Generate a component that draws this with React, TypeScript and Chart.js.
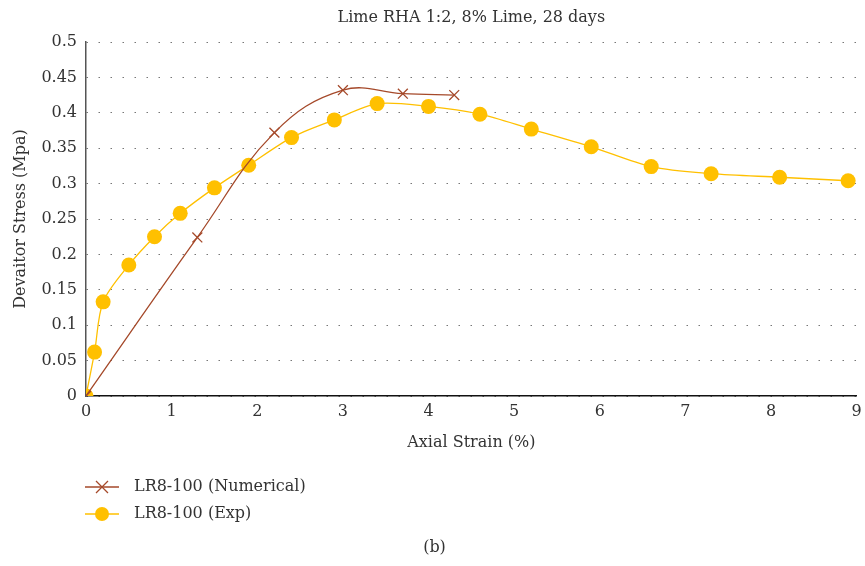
import React, { useEffect, useRef } from "react";
import { Chart, registerables } from "chart.js";

Chart.register(...registerables);

const titleText = "Lime RHA 1:2, 8% Lime, 28 days";
const xAxisTitle = "Axial Strain (%)";
const yAxisTitle = "Devaitor Stress (Mpa)";
const panelLabel = "(b)";

const numLabel = "LR8-100 (Numerical)";
const numX = [0, 1.3, 2.2, 3.0, 3.7, 4.3];
const numY = [0, 0.224, 0.372, 0.432, 0.427, 0.425];

const expLabel = "LR8-100 (Exp)";
const expX = [0, 0.1, 0.2, 0.5, 0.8, 1.1, 1.5, 1.9, 2.4, 2.9, 3.4, 4.0, 4.6, 5.2, 5.9, 6.6, 7.3, 8.1, 8.9];
const expY = [0, 0.062, 0.133, 0.185, 0.225, 0.258, 0.294, 0.326, 0.365, 0.39, 0.413, 0.409, 0.398, 0.377, 0.352, 0.324, 0.314, 0.309, 0.304];

const xTicks = [0, 1, 2, 3, 4, 5, 6, 7, 8, 9];
const yTicks = [0, 0.05, 0.1, 0.15, 0.2, 0.25, 0.3, 0.35, 0.4, 0.45, 0.5];

const NUM_COLOR = "#a5492a";
const EXP_COLOR = "#ffc000";
const FONT = "'DejaVu Serif', serif";
const TEXT = "#333333";
const FS = 16;

export default function App() {
  const ref = useRef<HTMLCanvasElement | null>(null);
  useEffect(() => {
    if (!ref.current) return;
    const extras = {
      id: "extras",
      afterDraw(chart: any) {
        const ctx = chart.ctx;
        const area = chart.chartArea;
        ctx.save();
        ctx.fillStyle = TEXT;
        ctx.textBaseline = "middle";
        ctx.textAlign = "center";
        ctx.font = `${FS}px ${FONT}`;
        ctx.fillText(titleText, (area.left + area.right) / 2, 18);
        ctx.fillText(panelLabel, chart.width / 2 + 2, 548);
        const items = [
          { label: numLabel, color: NUM_COLOR, kind: "cross", y: 487 },
          { label: expLabel, color: EXP_COLOR, kind: "circle", y: 514 },
        ];
        items.forEach((it) => {
          ctx.strokeStyle = it.color;
          ctx.lineWidth = 1.3;
          ctx.beginPath();
          ctx.moveTo(85, it.y);
          ctx.lineTo(119, it.y);
          ctx.stroke();
          if (it.kind === "cross") {
            const r = 6;
            ctx.beginPath();
            ctx.moveTo(102 - r, it.y - r);
            ctx.lineTo(102 + r, it.y + r);
            ctx.moveTo(102 - r, it.y + r);
            ctx.lineTo(102 + r, it.y - r);
            ctx.stroke();
          } else {
            ctx.fillStyle = it.color;
            ctx.beginPath();
            ctx.arc(102, it.y, 7, 0, Math.PI * 2);
            ctx.fill();
          }
          ctx.fillStyle = TEXT;
          ctx.textAlign = "left";
          ctx.fillText(it.label, 134, it.y);
        });
        ctx.restore();
      },
    };
    const chart = new Chart(ref.current, {
      type: "line",
      data: {
        datasets: [
          {
            label: numLabel,
            data: numX.map((x, i) => ({ x, y: numY[i] })),
            borderColor: NUM_COLOR,
            backgroundColor: NUM_COLOR,
            borderWidth: 1.3,
            pointStyle: "crossRot",
            pointRadius: 7,
            pointBorderWidth: 1.3,
            pointBorderColor: NUM_COLOR,
            tension: 0.4,
            fill: false,
            order: 1,
          },
          {
            label: expLabel,
            data: expX.map((x, i) => ({ x, y: expY[i] })),
            borderColor: EXP_COLOR,
            backgroundColor: EXP_COLOR,
            borderWidth: 1.3,
            pointStyle: "circle",
            pointRadius: 7.5,
            pointBorderWidth: 0,
            tension: 0.3,
            fill: false,
            order: 2,
          },
        ],
      },
      options: {
        animation: false,
        responsive: false,
        layout: { padding: { left: 0, right: 7, top: 42, bottom: 110 } },
        plugins: {
          legend: { display: false },
          title: { display: false },
          tooltip: { enabled: false },
        },
        scales: {
          x: {
            type: "linear",
            min: 0,
            max: 9,
            afterBuildTicks: (s: any) => {
              s.ticks = xTicks.map((v) => ({ value: v }));
            },
            afterFit: (s: any) => {
              s.height = 60;
              s.paddingRight = 0;
              s.paddingLeft = 0;
            },
            grid: { display: false, drawTicks: false },
            border: { display: true, color: "#111111", width: 1.5 },
            ticks: { color: TEXT, font: { family: FONT, size: FS }, padding: 6 },
            title: {
              display: true,
              text: xAxisTitle,
              color: TEXT,
              font: { family: FONT, size: FS },
              padding: { top: 6 },
            },
          },
          y: {
            type: "linear",
            min: 0,
            max: 0.5,
            afterBuildTicks: (s: any) => {
              s.ticks = yTicks.map((v) => ({ value: v }));
            },
            afterFit: (s: any) => {
              s.width = 86;
            },
            grid: {
              display: true,
              drawTicks: false,
              color: "#777777",
              lineWidth: 1,
            },
            border: { display: true, color: "#555555", width: 1.5, dash: [1.5, 10.5] },
            ticks: {
              color: TEXT,
              font: { family: FONT, size: FS },
              padding: 9,
              callback: (v: any) => String(Math.round(Number(v) * 100) / 100),
            },
            title: {
              display: true,
              text: yAxisTitle,
              color: TEXT,
              font: { family: FONT, size: FS },
              padding: { top: 11, bottom: 0 },
            },
          },
        },
      },
      plugins: [
        extras,
        {
          id: "rightEdge",
          beforeLayout(chart: any) {
            chart.options.layout.padding.right = 5;
          },
        },
      ],
    } as any);
    return () => chart.destroy();
  }, []);
  return (
    <div style={{ position: "absolute", left: 0, top: 0, width: 865, height: 566, background: "#fff" }}>
      <canvas ref={ref} width={865} height={566} style={{ width: 865, height: 566 }} />
    </div>
  );
}
